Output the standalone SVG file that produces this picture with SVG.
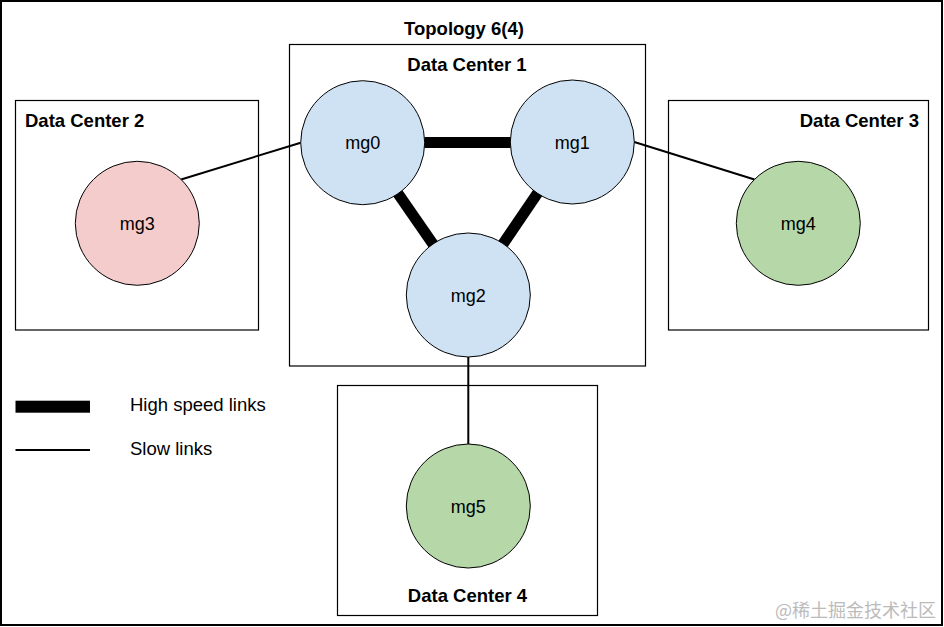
<svg xmlns="http://www.w3.org/2000/svg" width="944" height="627" viewBox="0 0 944 627">
<style>
.box{fill:none;stroke:#000;stroke-width:1.2}
.node{stroke:#000;stroke-width:1}
.blue{fill:#cfe2f3}
.pink{fill:#f4cccc}
.green{fill:#b6d7a8}
.fast{stroke:#000;stroke-width:11;fill:none}
.slow{stroke:#000;stroke-width:2;fill:none}
.lbl{font-family:"Liberation Sans",Arial,sans-serif;font-size:18px;fill:#000;text-anchor:middle}
.hd{font-family:"Liberation Sans",Arial,sans-serif;font-size:18.5px;font-weight:bold;fill:#000}
.lg{font-family:"Liberation Sans",Arial,sans-serif;font-size:18.5px;fill:#000}
.wm{font-family:"Noto Sans CJK SC",sans-serif;font-size:18px;fill:#bbbbbb;text-anchor:end}
</style>
<rect x="0" y="0" width="944" height="627" fill="#fff"/>
<rect x="1" y="1" width="941" height="624" fill="none" stroke="#000" stroke-width="2"/>
<text class="hd" x="464" y="35" text-anchor="middle">Topology 6(4)</text>
<g id="dc1"><rect class="box" x="289.5" y="44.5" width="356" height="321.5"/><text class="hd" x="467" y="71" text-anchor="middle">Data Center 1</text></g>
<g id="dc2"><rect class="box" x="15.5" y="100.5" width="243" height="229.5"/><text class="hd" x="25" y="127">Data Center 2</text></g>
<g id="dc3"><rect class="box" x="668.5" y="100.5" width="260" height="229.5"/><text class="hd" x="919" y="127" text-anchor="end">Data Center 3</text></g>
<g id="dc4"><rect class="box" x="337.5" y="385.5" width="260" height="230"/><text class="hd" x="467.5" y="602" text-anchor="middle">Data Center 4</text></g>
<g id="connectors">
<line class="fast" x1="362.7" y1="142.5" x2="572.3" y2="142.5"/>
<line class="fast" x1="362.7" y1="142.7" x2="468.3" y2="295"/>
<line class="fast" x1="572.3" y1="142" x2="468.3" y2="295"/>
<line class="slow" x1="300.7" y1="142.7" x2="181.1" y2="179.5"/>
<line class="slow" x1="634.3" y1="142" x2="754.5" y2="179.5"/>
<line class="slow" x1="468.3" y1="356.7" x2="468.3" y2="444.3"/>
</g>
<g id="mg0"><circle class="node blue" cx="362.7" cy="142.7" r="62"/><text class="lbl" x="362.7" y="149.2">mg0</text></g>
<g id="mg1"><circle class="node blue" cx="572.3" cy="142" r="62"/><text class="lbl" x="572.3" y="148.5">mg1</text></g>
<g id="mg2"><circle class="node blue" cx="468.3" cy="295" r="62"/><text class="lbl" x="468.3" y="301.5">mg2</text></g>
<g id="mg3"><circle class="node pink" cx="137.3" cy="223.3" r="62"/><text class="lbl" x="137.3" y="229.8">mg3</text></g>
<g id="mg4"><circle class="node green" cx="798.3" cy="223.3" r="62"/><text class="lbl" x="798.3" y="229.8">mg4</text></g>
<g id="mg5"><circle class="node green" cx="468.3" cy="506" r="62"/><text class="lbl" x="468.3" y="512.5">mg5</text></g>
<g id="legend">
<rect x="15.5" y="400.7" width="74.5" height="12" fill="#000"/>
<text class="lg" x="130" y="411">High speed links</text>
<line class="slow" x1="15.5" y1="450" x2="90" y2="450"/>
<text class="lg" x="130" y="455">Slow links</text>
</g>
<text class="wm" x="936" y="617">@稀土掘金技术社区</text>
</svg>
